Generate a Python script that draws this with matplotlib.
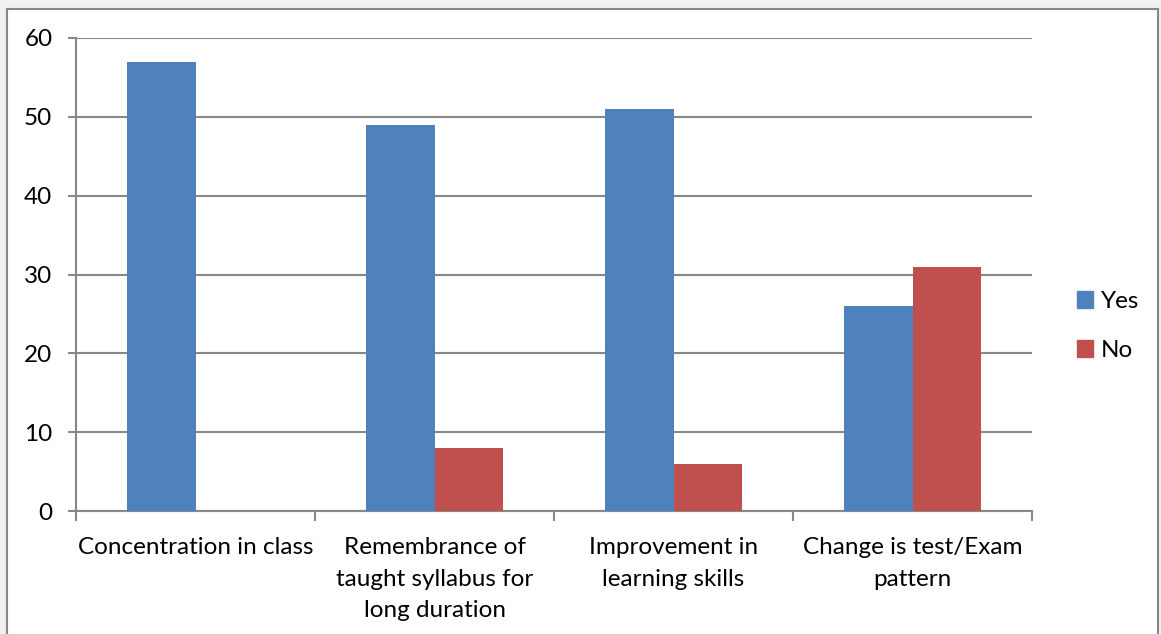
import matplotlib.pyplot as plt
import matplotlib.patches as mpatches
import numpy as np

# Datos
categories = ["Concentration in class",
              "Remembrance of\ntaught syllabus for\nlong duration",
              "Improvement in\nlearning skills",
              "Change is test/Exam\npattern"]
yes_values = [57, 49, 51, 26]
no_values = [0, 8, 6, 31]

plt.rcParams['font.family'] = ['Lato', 'DejaVu Sans']

W, H = 1161, 634
fig = plt.figure(figsize=(W / 100, H / 100), dpi=100)
fig.patch.set_facecolor('#f0f0f0')

# Marco blanco del gráfico
frame = mpatches.Rectangle((7 / W, -0.05), (1158 - 7) / W, 1.05 - 9 / H,
                           transform=fig.transFigure, facecolor='white',
                           edgecolor='#888888', linewidth=1.5, zorder=-10)
fig.patches.append(frame)

ax = fig.add_axes([76 / W, 1 - 511 / H, (1032 - 76) / W, (511 - 38) / H])
ax.set_facecolor('none')
ax.set_zorder(5)

x = np.arange(len(categories))
width = 0.285
ax.bar(x - width / 2, yes_values, width, color='#4f81bd', label='Yes', zorder=3)
ax.bar(x + width / 2, no_values, width, color='#c0504d', label='No', zorder=3)

ax.set_xlim(-0.5, len(categories) - 0.5)
ax.set_ylim(0, 60)
ax.set_yticks(range(0, 61, 10))
ax.yaxis.grid(True, color='#888888', linewidth=1.5, zorder=1)

fs = 17.5
# Marcas del eje x entre categorías
ax.set_xticks(np.arange(-0.5, len(categories), 1.0))
ax.set_xticklabels([])
ax.set_xticks(x, minor=True)
ax.set_xticklabels(categories, minor=True, fontsize=fs, linespacing=1.62)
ax.tick_params(axis='x', which='minor', length=0, pad=19)
ax.tick_params(axis='x', which='major', length=7, width=1.5, color='#888888', direction='out')
ax.tick_params(axis='y', length=6, width=1.5, color='#888888', labelsize=fs, pad=11)
for lbl in ax.get_xticklabels(minor=True):
    lbl.set_verticalalignment('top')

for side in ['top', 'right']:
    ax.spines[side].set_visible(False)
for side in ['left', 'bottom']:
    ax.spines[side].set_color('#888888')
    ax.spines[side].set_linewidth(1.5)

handles = [mpatches.Patch(color='#4f81bd', label='Yes'),
           mpatches.Patch(color='#c0504d', label='No')]
leg = fig.legend(handles=handles, loc='center left', bbox_to_anchor=(1055 / W, 1 - 326 / H),
                 frameon=False, fontsize=fs, handlelength=0.65, handleheight=0.65,
                 handletextpad=0.35, labelspacing=1.15)
leg.set_zorder(6)

plt.savefig("out.png", dpi=100, facecolor=fig.get_facecolor())
